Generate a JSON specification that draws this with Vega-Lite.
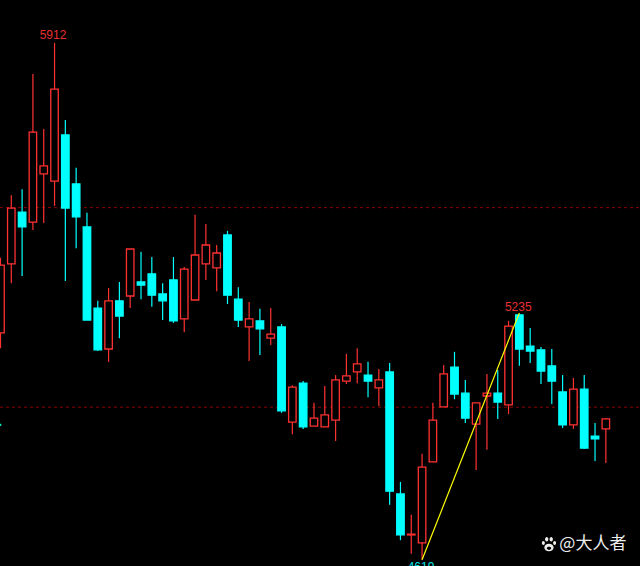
{"$schema":"https://vega.github.io/schema/vega-lite/v6.json","width":640,"height":566,"padding":0,"autosize":{"type":"none"},"background":"#000000","config":{"view":{"stroke":null}},
"datasets":{"candles":[
{"i":-1,"dir":"up","top":5359,"bottom":5190,"high":5377,"low":5152},
{"i":0,"dir":"up","top":5501,"bottom":5362,"high":5533,"low":5314},
{"i":1,"dir":"down","top":5491,"bottom":5454,"high":5548,"low":5332},
{"i":2,"dir":"up","top":5690,"bottom":5466,"high":5835,"low":5446},
{"i":3,"dir":"up","top":5606,"bottom":5586,"high":5698,"low":5464},
{"i":4,"dir":"up","top":5797,"bottom":5568,"high":5912,"low":5506},
{"i":5,"dir":"down","top":5683,"bottom":5501,"high":5720,"low":5319},
{"i":6,"dir":"down","top":5561,"bottom":5479,"high":5601,"low":5401},
{"i":7,"dir":"down","top":5454,"bottom":5222,"high":5489,"low":5222},
{"i":8,"dir":"down","top":5252,"bottom":5148,"high":5270,"low":5145},
{"i":9,"dir":"up","top":5270,"bottom":5150,"high":5302,"low":5118},
{"i":10,"dir":"down","top":5270,"bottom":5232,"high":5317,"low":5177},
{"i":11,"dir":"up","top":5399,"bottom":5282,"high":5399,"low":5252},
{"i":12,"dir":"down","top":5317,"bottom":5309,"high":5392,"low":5274},
{"i":13,"dir":"down","top":5337,"bottom":5284,"high":5379,"low":5255},
{"i":14,"dir":"down","top":5287,"bottom":5270,"high":5314,"low":5222},
{"i":15,"dir":"down","top":5322,"bottom":5220,"high":5379,"low":5215},
{"i":16,"dir":"up","top":5349,"bottom":5225,"high":5354,"low":5192},
{"i":17,"dir":"up","top":5384,"bottom":5272,"high":5484,"low":5272},
{"i":18,"dir":"up","top":5409,"bottom":5362,"high":5461,"low":5322},
{"i":19,"dir":"up","top":5389,"bottom":5352,"high":5409,"low":5294},
{"i":20,"dir":"down","top":5434,"bottom":5284,"high":5444,"low":5262},
{"i":21,"dir":"down","top":5274,"bottom":5222,"high":5304,"low":5205},
{"i":22,"dir":"up","top":5225,"bottom":5205,"high":5267,"low":5120},
{"i":23,"dir":"down","top":5220,"bottom":5200,"high":5250,"low":5135},
{"i":24,"dir":"up","top":5187,"bottom":5177,"high":5252,"low":5160},
{"i":25,"dir":"down","top":5205,"bottom":4996,"high":5212,"low":4991},
{"i":26,"dir":"up","top":5055,"bottom":4968,"high":5060,"low":4938},
{"i":27,"dir":"down","top":5065,"bottom":4956,"high":5070,"low":4951},
{"i":28,"dir":"up","top":4978,"bottom":4958,"high":5016,"low":4958},
{"i":29,"dir":"up","top":4986,"bottom":4956,"high":5058,"low":4956},
{"i":30,"dir":"up","top":5073,"bottom":4973,"high":5085,"low":4921},
{"i":31,"dir":"up","top":5083,"bottom":5070,"high":5138,"low":5063},
{"i":32,"dir":"up","top":5113,"bottom":5093,"high":5152,"low":5065},
{"i":33,"dir":"down","top":5085,"bottom":5070,"high":5118,"low":5030},
{"i":34,"dir":"up","top":5073,"bottom":5053,"high":5100,"low":5008},
{"i":35,"dir":"down","top":5093,"bottom":4796,"high":5115,"low":4762},
{"i":36,"dir":"down","top":4789,"bottom":4687,"high":4819,"low":4674},
{"i":37,"dir":"up","top":4689,"bottom":4687,"high":4737,"low":4640},
{"i":38,"dir":"up","top":4856,"bottom":4667,"high":4889,"low":4625},
{"i":39,"dir":"up","top":4973,"bottom":4869,"high":5016,"low":4869},
{"i":40,"dir":"up","top":5088,"bottom":5006,"high":5110,"low":5006},
{"i":41,"dir":"down","top":5105,"bottom":5038,"high":5143,"low":5025},
{"i":42,"dir":"down","top":5040,"bottom":4978,"high":5073,"low":4966},
{"i":43,"dir":"up","top":5016,"bottom":4963,"high":5016,"low":4849},
{"i":44,"dir":"up","top":5040,"bottom":5033,"high":5088,"low":4899},
{"i":45,"dir":"down","top":5040,"bottom":5018,"high":5098,"low":4976},
{"i":46,"dir":"up","top":5207,"bottom":5011,"high":5220,"low":4988},
{"i":47,"dir":"down","top":5235,"bottom":5150,"high":5235,"low":5108},
{"i":48,"dir":"down","top":5157,"bottom":5145,"high":5202,"low":5115},
{"i":49,"dir":"down","top":5148,"bottom":5095,"high":5155,"low":5063},
{"i":50,"dir":"down","top":5108,"bottom":5070,"high":5150,"low":5013},
{"i":51,"dir":"down","top":5043,"bottom":4961,"high":5085,"low":4953},
{"i":52,"dir":"up","top":5050,"bottom":4961,"high":5078,"low":4951},
{"i":53,"dir":"down","top":5050,"bottom":4903,"high":5085,"low":4901},
{"i":54,"dir":"down","top":4933,"bottom":4926,"high":4966,"low":4871},
{"i":55,"dir":"up","top":4976,"bottom":4951,"high":4978,"low":4866}
]},
"data":{"name":"candles"},
"encoding":{"x":{"field":"i","type":"quantitative","scale":{"domain":[-1.045,58.16],"nice":false,"zero":false,"padding":0},"axis":null}},
"layer":[
{"data":{"values":[{"level":5502},{"level":5005}]},"mark":{"type":"rule","color":"#8a0000","strokeWidth":1,"strokeDash":[3,3]},"encoding":{"x":{"value":0},"x2":{"value":640},"y":{"field":"level","type":"quantitative","scale":{"domain":[4609.66,6019],"nice":false,"zero":false},"axis":null}}},
{"mark":{"type":"rule","strokeWidth":1.2,"clip":true},"encoding":{"y":{"field":"high","type":"quantitative","scale":{"domain":[4609.66,6019],"nice":false,"zero":false},"axis":null},"y2":{"field":"low"},"color":{"field":"dir","type":"nominal","scale":{"domain":["up","down"],"range":["#ff3232","#00ffff"]},"legend":null}}},
{"mark":{"type":"bar","size":7.5,"strokeWidth":1.3,"clip":true,"opacity":1},"encoding":{"y":{"field":"top","type":"quantitative","scale":{"domain":[4609.66,6019],"nice":false,"zero":false},"axis":null},"y2":{"field":"bottom"},"fill":{"field":"dir","type":"nominal","scale":{"domain":["up","down"],"range":["#000000","#00ffff"]},"legend":null},"stroke":{"field":"dir","type":"nominal","scale":{"domain":["up","down"],"range":["#ff3232","#00ffff"]},"legend":null}}},
{"data":{"values":[{"i":38,"p":4625},{"i":47,"p":5240}]},"mark":{"type":"line","color":"#ffff00","strokeWidth":1.2},"encoding":{"y":{"field":"p","type":"quantitative","scale":{"domain":[4609.66,6019],"nice":false,"zero":false},"axis":null}}},
{"data":{"values":[{"i":-1.04,"p":4961}]},"mark":{"type":"point","shape":"square","filled":true,"size":6,"color":"#00e5b0","clip":true,"opacity":1},"encoding":{"y":{"field":"p","type":"quantitative","scale":{"domain":[4609.66,6019],"nice":false,"zero":false},"axis":null}}},
{"data":{"values":[{"i":3.86,"p":5912,"label":"5912"},{"i":46.9,"p":5235,"label":"5235"}]},"mark":{"type":"text","font":"Liberation Sans","fontSize":12,"dy":-8,"baseline":"middle","align":"center","color":"#e83030"},"encoding":{"y":{"field":"p","type":"quantitative","scale":{"domain":[4609.66,6019],"nice":false,"zero":false},"axis":null},"text":{"field":"label"}}},
{"data":{"values":[{"i":37.9,"p":4625,"label":"4619"}]},"mark":{"type":"text","font":"Liberation Sans","fontSize":12,"dy":7,"baseline":"middle","align":"center","color":"#00e5e5"},"encoding":{"y":{"field":"p","type":"quantitative","scale":{"domain":[4609.66,6019],"nice":false,"zero":false},"axis":null},"text":{"field":"label"}}},
{"data":{"values":[{"i":49.74,"p":4664}]},"mark":{"type":"point","filled":true,"opacity":1,"size":225,"color":"#eeeeee","shape":"M-0.95 -0.15a0.2 0.27 0 1 0 0.4 0a0.2 0.27 0 1 0 -0.4 0ZM-0.52 -0.65a0.22 0.3 0 1 0 0.44 0a0.22 0.3 0 1 0 -0.44 0ZM0.08 -0.65a0.22 0.3 0 1 0 0.44 0a0.22 0.3 0 1 0 -0.44 0ZM0.55 -0.15a0.2 0.27 0 1 0 0.4 0a0.2 0.27 0 1 0 -0.4 0ZM-0.62 0.45a0.62 0.5 0 1 0 1.24 0a0.62 0.5 0 1 0 -1.24 0ZM-0.3 0.55a0.3 0.2 0 1 1 0.6 0a0.3 0.2 0 1 1 -0.6 0Z"},"encoding":{"y":{"field":"p","type":"quantitative","scale":{"domain":[4609.66,6019],"nice":false,"zero":false},"axis":null}}},
{"data":{"values":[{"i":53.8,"p":4664,"label":"@大人者"}]},"mark":{"type":"text","font":"Noto Sans CJK SC","fontSize":17,"baseline":"middle","align":"center","color":"#eeeeee"},"encoding":{"y":{"field":"p","type":"quantitative","scale":{"domain":[4609.66,6019],"nice":false,"zero":false},"axis":null},"text":{"field":"label"}}}
]}
